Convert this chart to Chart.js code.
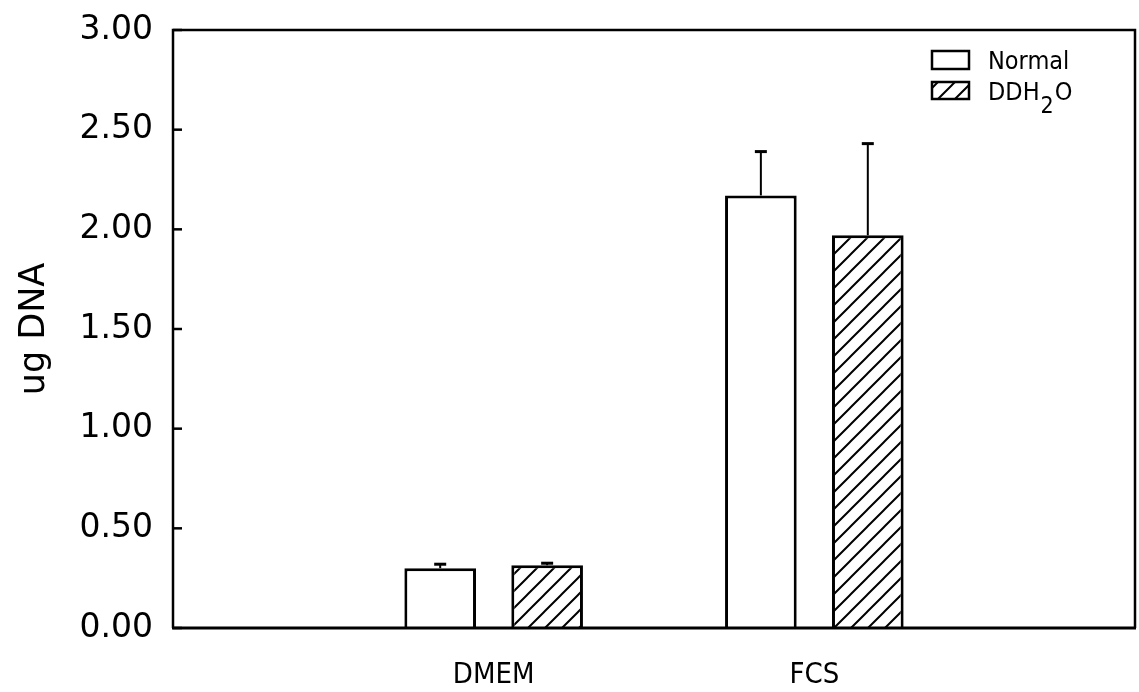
<!DOCTYPE html>
<html>
<head>
<meta charset="utf-8">
<script src="https://cdn.jsdelivr.net/npm/chart.js@4/dist/chart.umd.min.js"></script>
<style>
  body { margin: 0; background: #fff; }
  #wrap { width: 1139px; height: 692px; }
</style>
</head>
<body>
<div id="wrap"><canvas id="chart" width="1139" height="692"></canvas></div>
<script>
// categories (empty slots at both ends keep the groups where the original has them)
const categories = ['', 'DMEM', 'FCS', ''];
const seriesNames = ['Normal', 'DDH\u2082O'];
const normalValues = [null, 0.30, 2.17, null];
const normalErrors = [null, 0.02, 0.22, null];
const ddh2oValues = [null, 0.315, 1.97, null];
const ddh2oErrors = [null, 0.01, 0.46, null];
const yTickValues = [0, 0.5, 1, 1.5, 2, 2.5, 3];

const tickFont = "'DejaVu Sans', sans-serif";
const condFont = "'DejaVu Sans Condensed', 'Liberation Sans Narrow', 'DejaVu Sans', sans-serif";

// hatch fill for the DDH2O bars
function makeHatch(size) {
    const c = document.createElement('canvas');
    c.width = size;
    c.height = size;
    const g = c.getContext('2d');
    g.fillStyle = '#fff';
    g.fillRect(0, 0, size, size);
    g.strokeStyle = '#000';
    g.lineWidth = 2;
    g.beginPath();
    g.moveTo(0, size); g.lineTo(size, 0);
    g.moveTo(-size / 2, size / 2); g.lineTo(size / 2, -size / 2);
    g.moveTo(size / 2, size * 1.5); g.lineTo(size * 1.5, size / 2);
    g.stroke();
    return g.createPattern(c, 'repeat');
}
const ctx = document.getElementById('chart').getContext('2d');
const hatch = makeHatch(17);

const errors = [normalErrors, ddh2oErrors];

const errorBars = {
    id: 'errorBars',
    afterDatasetsDraw(chart) {
        const c = chart.ctx;
        const y = chart.scales.y;
        c.save();
        c.strokeStyle = '#000';
        chart.data.datasets.forEach((ds, di) => {
            const meta = chart.getDatasetMeta(di);
            meta.data.forEach((bar, i) => {
                const v = ds.data[i];
                const e = errors[di][i];
                if (v == null || e == null) return;
                const top = y.getPixelForValue(v + e);
                c.lineWidth = 2;
                c.beginPath();
                c.moveTo(bar.x, bar.y);
                c.lineTo(bar.x, top);
                c.stroke();
                c.lineWidth = 3;
                c.beginPath();
                c.moveTo(bar.x - 6, top);
                c.lineTo(bar.x + 6, top);
                c.stroke();
            });
        });
        c.restore();
    }
};

const frame = {
    id: 'frame',
    afterDraw(chart) {
        const c = chart.ctx;
        const a = chart.chartArea;
        const y = chart.scales.y;
        c.save();
        c.strokeStyle = '#000';
        c.lineWidth = 2.5;
        c.beginPath();
        c.moveTo(a.left, a.bottom); c.lineTo(a.left, a.top);
        c.lineTo(a.right, a.top); c.lineTo(a.right, a.bottom);
        c.stroke();
        c.lineWidth = 3;
        c.beginPath();
        c.moveTo(a.left - 1, a.bottom); c.lineTo(a.right + 1, a.bottom);
        c.stroke();
        // inner tick marks on the y axis
        c.lineWidth = 2.5;
        yTickValues.forEach(v => {
            const p = y.getPixelForValue(v);
            c.beginPath();
            c.moveTo(a.left, p);
            c.lineTo(a.left + 9, p);
            c.stroke();
        });

        // legend, top right inside the frame
        const bx = a.right - 203;
        const rows = [a.top + 21, a.top + 52];
        c.lineWidth = 2.5;
        c.fillStyle = '#fff';
        c.fillRect(bx, rows[0], 37, 18);
        c.strokeRect(bx, rows[0], 37, 18);
        c.fillStyle = hatch;
        c.fillRect(bx, rows[1], 37, 17);
        c.strokeRect(bx, rows[1], 37, 17);

        c.fillStyle = '#000';
        c.textBaseline = 'alphabetic';
        c.textAlign = 'left';
        c.font = '25px ' + condFont;
        const tx = bx + 56;
        c.fillText(seriesNames[0], tx, rows[0] + 18);
        let x = tx;
        c.fillText('DDH', x, rows[1] + 18);
        x += c.measureText('DDH').width + 1;
        c.font = '23px ' + condFont;
        c.fillText('2', x, rows[1] + 31);
        x += c.measureText('2').width + 1;
        c.font = '25px ' + condFont;
        c.fillText('O', x, rows[1] + 18);
        c.restore();
    }
};

function noPad(scale) {
    scale.paddingTop = 0;
    scale.paddingBottom = 0;
    scale.paddingLeft = 0;
    scale.paddingRight = 0;
}

new Chart(ctx, {
    type: 'bar',
    data: {
        labels: categories,
        datasets: [
            {
                label: seriesNames[0],
                data: normalValues,
                backgroundColor: '#fff',
                borderColor: '#000',
                borderWidth: 3
            },
            {
                label: seriesNames[1],
                data: ddh2oValues,
                backgroundColor: hatch,
                borderColor: '#000',
                borderWidth: 3
            }
        ]
    },
    options: {
        responsive: false,
        animation: false,
        events: [],
        categoryPercentage: 0.667,
        barPercentage: 0.67,
        layout: { padding: { top: 30, right: 4, left: 0, bottom: 0 } },
        plugins: {
            legend: { display: false },
            tooltip: { enabled: false }
        },
        scales: {
            x: {
                offset: false,
                grid: { display: false, drawTicks: false },
                border: { display: false },
                ticks: {
                    color: '#000',
                    padding: 30,
                    maxRotation: 0,
                    autoSkip: false,
                    font: { family: condFont, size: 29 }
                },
                afterFit(scale) { scale.height = 64; noPad(scale); }
            },
            y: {
                min: 0,
                max: 3,
                grid: { display: false, drawTicks: false },
                border: { display: false },
                afterBuildTicks(scale) {
                    scale.ticks = yTickValues.map(v => ({ value: v }));
                },
                ticks: {
                    color: '#000',
                    padding: 20,
                    font: { family: tickFont, size: 33 },
                    callback: v => Number(v).toFixed(2)
                },
                title: {
                    display: true,
                    text: 'ug DNA',
                    color: '#000',
                    padding: { top: 14 },
                    font: { family: tickFont, size: 35 }
                },
                afterFit(scale) { scale.width = 173; noPad(scale); }
            }
        }
    },
    plugins: [errorBars, frame]
});
</script>
</body>
</html>
